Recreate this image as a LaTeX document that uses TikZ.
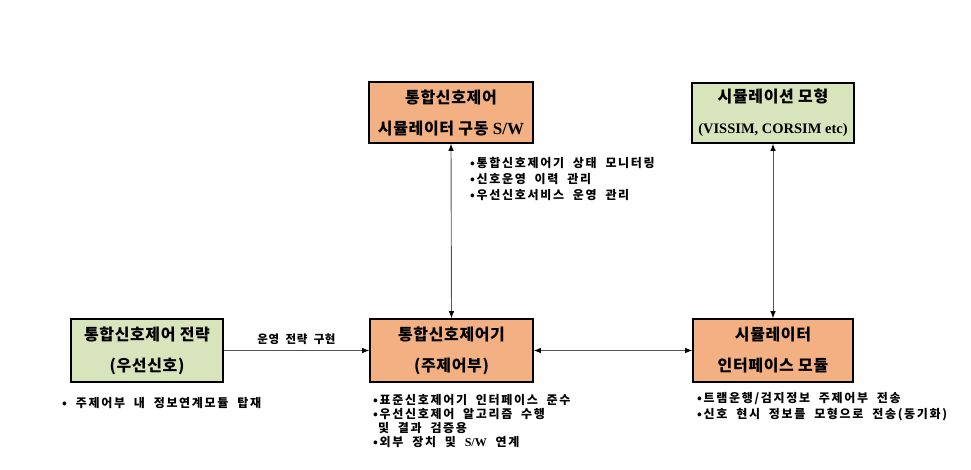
\documentclass[tikz,border=0pt]{standalone}
\usepackage{fontspec}
\setmainfont{Noto Sans CJK KR}
\newfontfamily\boxfont[LetterSpace=4]{Noto Sans CJK KR}
\newfontfamily\notefont[LetterSpace=14, WordSpace=2]{Noto Sans CJK KR}
\newfontfamily\labelfont[LetterSpace=5, WordSpace=2]{Noto Sans CJK KR}
\newfontfamily\latinfont{Liberation Serif}
\usetikzlibrary{arrows.meta}

\definecolor{boxorange}{HTML}{F3B083}
\definecolor{boxgreen}{HTML}{D7E4BC}
\definecolor{linkgray}{HTML}{555555}

\tikzset{
  block/.style={draw=black, line width=1.6pt, align=center, inner sep=0pt,
    font=\boxfont\fontsize{16}{31}\selectfont\bfseries},
  orangeblock/.style={block, fill=boxorange},
  greenblock/.style={block, fill=boxgreen},
  link/.style={draw=linkgray, line width=0.9pt, -{Latex[length=7pt,width=5.5pt,color=black]}},
  twolink/.style={draw=linkgray, line width=0.9pt, {Latex[length=7pt,width=5.5pt,color=black]}-{Latex[length=7pt,width=5.5pt,color=black]}},
  note/.style={anchor=north west, align=left, inner sep=0pt,
    font=\notefont\fontsize{12}{14}\selectfont\bfseries}
}

\begin{document}
\begin{tikzpicture}[x=1pt, y=-1pt]

    \useasboundingbox (0,0) rectangle (971,469);

    % these are the boxes
    \node[orangeblock, minimum width=164pt, minimum height=61pt] (sw) at (451,112.5)
        {통합신호제어\\시뮬레이터 구동 {\latinfont\fontsize{17}{31}\selectfont\bfseries S/W}};
    \node[greenblock, minimum width=162pt, minimum height=60pt] (model) at (773,113)
        {시뮬레이션 모형\\{\latinfont\fontsize{14.5}{31}\selectfont (VISSIM, CORSIM etc)}};
    \node[greenblock, minimum width=152pt, minimum height=63pt] (strategy) at (147,350.5)
        {통합신호제어 전략\\(우선신호)};
    \node[orangeblock, minimum width=163pt, minimum height=63pt] (ctrl) at (451.5,350.5)
        {통합신호제어기\\(주제어부)};
    \node[orangeblock, minimum width=160pt, minimum height=63pt] (iface) at (773,350.5)
        {시뮬레이터\\인터페이스 모듈};

    % these are the links
    \draw[twolink] (sw.south) -- (ctrl.north);
    \draw[twolink] (model.south) -- (iface.north);
    \draw[link] (strategy.east) -- node[above=2pt, font=\labelfont\fontsize{11.5}{12}\selectfont\bfseries] (stratlabel) {운영 전략 구현} (ctrl.west);
    \draw[twolink] (ctrl.east) -- (iface.west);

    % these are the notes
    \node[note, font=\notefont\fontsize{12}{16}\selectfont\bfseries] (swnote) at (470,157)
        {•통합신호제어기 상태 모니터링\\•신호운영 이력 관리\\•우선신호서비스 운영 관리};
    \node[note] (stratnote) at (62,397)
        {•  주제어부 내 정보연계모듈 탑재};
    \node[note] (ctrlnote) at (373,394)
        {•표준신호제어기 인터페이스 준수\\•우선신호제어 알고리즘 수행\\\phantom{•}및 결과 검증용\\•외부 장치 및 {\latinfont S/W} 연계};
    \node[note, font=\notefont\fontsize{12}{16}\selectfont\bfseries] (ifnote) at (697,392)
        {•트램운행/검지정보 주제어부 전송\\•신호 현시 정보를 모형으로 전송(동기화)};

\end{tikzpicture}
\end{document}
